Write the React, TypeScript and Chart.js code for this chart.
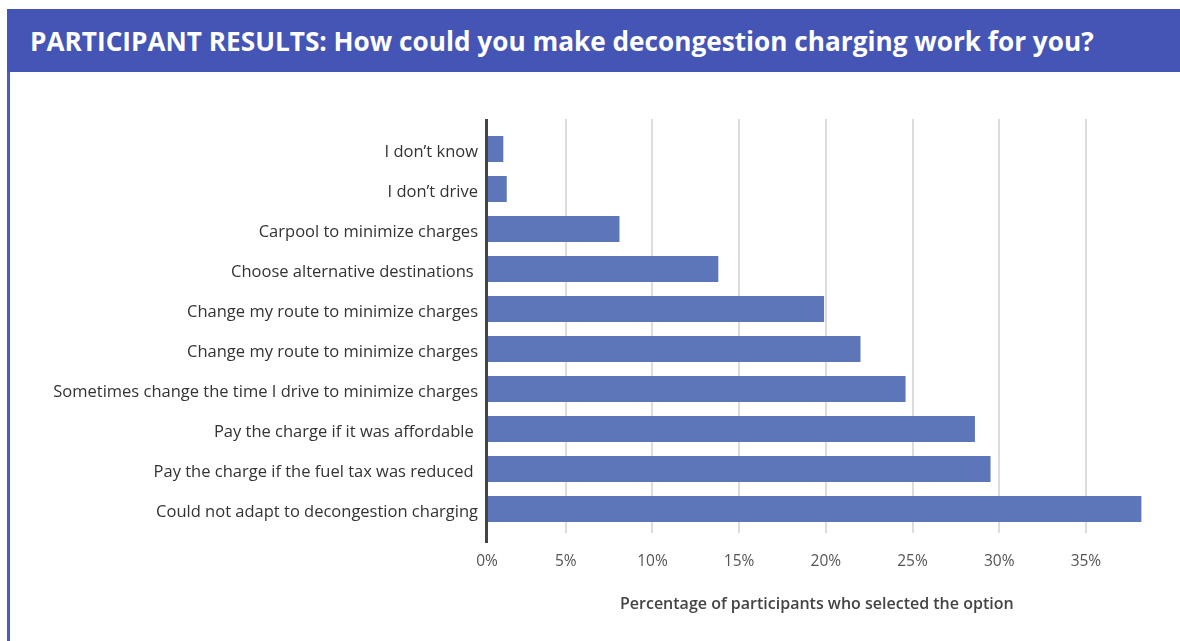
import React, { useEffect, useRef } from 'react';
import { Chart, registerables } from 'chart.js';

Chart.register(...registerables);

const titleText = 'PARTICIPANT RESULTS: How could you make decongestion charging work for you?';
const axisTitle = 'Percentage of participants who selected the option';

const categories = [
  'I don’t know',
  'I don’t drive',
  'Carpool to minimize charges',
  'Choose alternative destinations ',
  'Change my route to minimize charges',
  'Change my route to minimize charges',
  'Sometimes change the time I drive to minimize charges',
  'Pay the charge if it was affordable ',
  'Pay the charge if the fuel tax was reduced ',
  'Could not adapt to decongestion charging',
];

const percentages = [1.4, 1.6, 8.1, 13.8, 19.9, 22.0, 24.6, 28.6, 29.5, 38.2];

const tickValues = [0, 5, 10, 15, 20, 25, 30, 35];

const FONT = '"Open Sans", sans-serif';

const linesPlugin = {
  id: 'refLines',
  beforeDatasetsDraw(chart: any) {
    const { ctx, chartArea, scales } = chart;
    const x = scales.x;
    ctx.save();
    ctx.strokeStyle = '#dcdcdc';
    ctx.lineWidth = 2;
    x.ticks.forEach((t: any, i: number) => {
      if (i === 0) return;
      const px = Math.round(x.getPixelForValue(t.value));
      ctx.beginPath();
      ctx.moveTo(px, chartArea.top - 10);
      ctx.lineTo(px, chartArea.bottom + 4);
      ctx.stroke();
    });
    ctx.restore();
  },
  afterDatasetsDraw(chart: any) {
    const { ctx, chartArea } = chart;
    ctx.save();
    ctx.strokeStyle = '#444444';
    ctx.lineWidth = 3;
    ctx.beginPath();
    ctx.moveTo(chartArea.left - 0.5, chartArea.top - 10);
    ctx.lineTo(chartArea.left - 0.5, chartArea.bottom + 14);
    ctx.stroke();
    ctx.restore();
  },
};

export default function App() {
  const canvasRef = useRef<HTMLCanvasElement | null>(null);

  useEffect(() => {
    if (!canvasRef.current) return;
    const chart = new Chart(canvasRef.current, {
      type: 'bar',
      data: {
        labels: categories,
        datasets: [
          {
            data: percentages,
            backgroundColor: '#5c76b9',
            barPercentage: 0.65,
            categoryPercentage: 1,
          },
        ],
      },
      options: {
        indexAxis: 'y',
        animation: false,
        responsive: false,
        devicePixelRatio: 1,
        layout: { padding: { top: 57, right: 33.4, left: 0, bottom: 0 } },
        plugins: { legend: { display: false }, tooltip: { enabled: false } },
        scales: {
          x: {
            type: 'linear',
            position: 'bottom',
            min: 0.46,
            max: 38.5,
            afterBuildTicks: (s: any) => {
              s.ticks = tickValues.map((v) => ({ value: v === 0 ? s.min : v }));
            },
            afterFit: (s: any) => {
              s.height = 112;
            },
            grid: { display: false, drawTicks: false },
            border: { display: false },
            ticks: {
              padding: 23,
              color: '#555555',
              autoSkip: false,
              maxRotation: 0,
              font: { family: FONT, size: 15.5 },
              callback: (_v: any, i: number) => tickValues[i] + '%',
            },
            title: {
              display: true,
              text: axisTitle,
              color: '#444444',
              font: { family: FONT, size: 16, weight: '600' },
              padding: { top: 0, bottom: 27 },
            },
          },
          y: {
            afterFit: (s: any) => {
              s.width = 477;
            },
            grid: { display: false, drawTicks: false },
            border: { display: false },
            ticks: {
              padding: 9,
              labelOffset: 3,
              color: '#333333',
              autoSkip: false,
              font: { family: FONT, size: 16.5 },
            },
          },
        },
      },
      plugins: [linesPlugin],
    });
    return () => chart.destroy();
  }, []);

  return (
    <div style={{ position: 'fixed', left: 0, top: 0, width: 1180, height: 641, background: '#ffffff', overflow: 'hidden' }}>
      <div
        style={{
          position: 'absolute',
          left: 7,
          top: 9,
          width: 1173,
          height: 63,
          background: '#4455b5',
          color: '#ffffff',
          fontFamily: FONT,
          fontWeight: 700,
          fontSize: 26.2,
          display: 'flex',
          alignItems: 'center',
          paddingLeft: 23,
          paddingTop: 0,
          boxSizing: 'border-box',
          whiteSpace: 'nowrap',
        }}
      >
        {titleText}
      </div>
      <div style={{ position: 'absolute', left: 7, top: 72, width: 3, height: 569, background: '#4b5bc0' }} />
      <canvas ref={canvasRef} width={1170} height={569} style={{ position: 'absolute', left: 10, top: 72 }} />
    </div>
  );
}
